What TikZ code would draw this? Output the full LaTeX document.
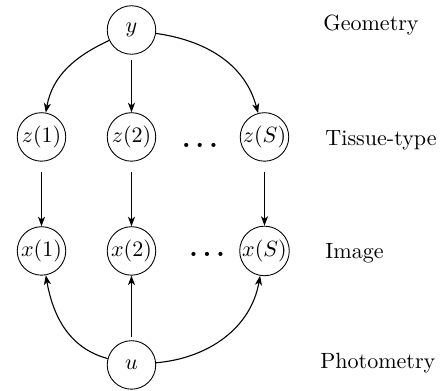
\documentclass[tikz,border=0pt]{standalone}
\usepackage{amsmath}
\usepackage{amssymb}
\usepackage{tikz}
\usetikzlibrary{arrows.meta}

\begin{document}
\begin{tikzpicture}[>={Stealth[length=4.3pt,width=3.2pt,inset=1.2pt]},
                    var/.style={circle, draw, inner sep=0pt, minimum size=22pt},
                    lab/.style={anchor=west, inner sep=0pt},
                    dots/.style={inner sep=0pt, font=\large\boldmath},
                    edge/.style={->, line width=0.5pt}]
  \useasboundingbox (0,0) rectangle (200pt,-177.3pt);
  % top and bottom
  \node[var] (y) at (59.63pt,-13.6pt) {\(y\)};
  \node[var] (u) at (59.63pt,-165.5pt) {\(u\)};
  % tissue-type row
  \node[var] (z1) at (18.82pt,-62.1pt) {\(z(1)\)};
  \node[var] (z2) at (59.63pt,-62.1pt) {\(z(2)\)};
  \node[dots] (zd) at (90.7pt,-65.8pt) {\(\ldots\)};
  \node[var] (zS) at (119.95pt,-62.1pt) {\(z(S)\)};
  % image row
  \node[var] (x1) at (18.82pt,-113.8pt) {\(x(1)\)};
  \node[var] (x2) at (59.63pt,-113.8pt) {\(x(2)\)};
  \node[dots] (xd) at (93.9pt,-115.6pt) {\(\ldots\)};
  \node[var] (xS) at (119.95pt,-113.8pt) {\(x(S)\)};
  % labels
  \node[lab] (geo) at (146.5pt,-11.3pt) {Geometry};
  \node[lab] (tis) at (147.4pt,-63.5pt) {Tissue-type};
  \node[lab] (img) at (147.4pt,-114.7pt) {Image};
  \node[lab] (pho) at (145.1pt,-164.6pt) {Photometry};

  \draw[edge] (y) to[out=205,in=80] (z1);
  \draw[edge, shorten <=2.3pt] (y) -- (z2);
  \draw[edge] (y) to[out=-8,in=105] (zS);
  \draw[edge, shorten <=4.5pt] (z1) -- (x1);
  \draw[edge, shorten <=4.5pt] (z2) -- (x2);
  \draw[edge, shorten <=4.5pt] (zS) -- (xS);
  \draw[edge] (u) to[out=165,in=-80] (x1);
  \draw[edge, shorten <=1.5pt] (u) -- (x2);
  \draw[edge] (u) to[out=5,in=-100] (xS);
\end{tikzpicture}
\end{document}
